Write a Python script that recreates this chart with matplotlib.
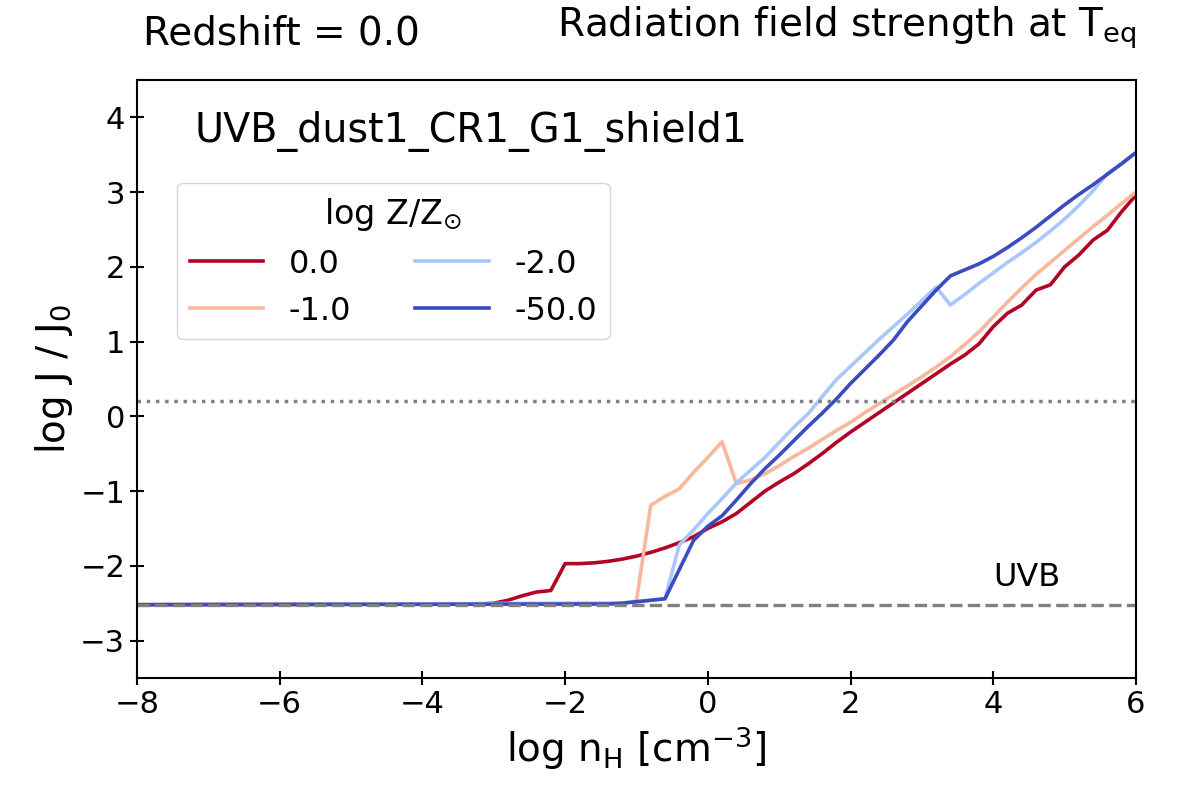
import numpy as np
import matplotlib
matplotlib.use("Agg")
import matplotlib.pyplot as plt
from matplotlib import cm

# log Z/Zsun labels and where they sit on coolwarm
z_labels = ["0.0", "-1.0", "-2.0", "-50.0"]
cmap_pos = [1.0, 2 / 3, 1 / 3, 0.0]

red_x = [-8.0, -3.2, -3.0, -2.8, -2.6, -2.4, -2.2, -2.0, -1.8, -1.6, -1.4, -1.2, -1.0, -0.8, -0.6, -0.4,
         -0.2, 0.0, 0.2, 0.4, 0.6, 0.8, 1.0, 1.2, 1.4, 1.6, 1.8, 2.0, 2.2, 2.4, 2.6, 2.8, 3.0, 3.2, 3.4,
         3.6, 3.8, 4.0, 4.2, 4.4, 4.6, 4.8, 5.0, 5.2, 5.4, 5.6, 5.8, 6.0]
red_y = [-2.52, -2.51, -2.50, -2.46, -2.40, -2.35, -2.33, -1.97, -1.97, -1.96, -1.94, -1.91, -1.87, -1.82,
         -1.76, -1.69, -1.61, -1.50, -1.41, -1.30, -1.15, -1.00, -0.88, -0.77, -0.64, -0.50, -0.35, -0.21,
         -0.08, 0.05, 0.18, 0.31, 0.44, 0.57, 0.70, 0.82, 0.97, 1.20, 1.38, 1.49, 1.69, 1.76, 2.00, 2.16,
         2.36, 2.49, 2.74, 2.96]

orng_x = [-8.0, -1.2, -1.0, -0.8, -0.6, -0.4, -0.2, 0.0, 0.2, 0.4, 0.6, 0.8, 1.0, 1.2, 1.4, 1.6, 1.8, 2.0,
          2.2, 2.4, 2.6, 2.8, 3.0, 3.2, 3.4, 3.6, 3.8, 4.0, 4.2, 4.4, 4.6, 4.8, 5.0, 5.2, 5.4, 5.6, 5.8, 6.0]
orng_y = [-2.52, -2.50, -2.47, -1.19, -1.07, -0.97, -0.75, -0.55, -0.34, -0.90, -0.85, -0.77, -0.66, -0.54,
          -0.43, -0.31, -0.19, -0.08, 0.05, 0.17, 0.29, 0.41, 0.53, 0.66, 0.80, 0.96, 1.13, 1.33, 1.53,
          1.72, 1.90, 2.06, 2.22, 2.38, 2.54, 2.69, 2.85, 3.00]

lb_x = [-8.0, -1.2, -1.0, -0.8, -0.6, -0.4, -0.2, 0.0, 0.2, 0.4, 0.6, 0.8, 1.0, 1.2, 1.4, 1.6, 1.8, 2.0,
        2.2, 2.4, 2.6, 2.8, 3.0, 3.2, 3.4, 3.6, 3.8, 4.0, 4.2, 4.4, 4.6, 4.8, 5.0, 5.2, 5.4, 5.6, 5.8, 6.0]
lb_y = [-2.52, -2.50, -2.48, -2.46, -2.44, -1.72, -1.52, -1.30, -1.10, -0.89, -0.72, -0.55, -0.35, -0.15,
        0.03, 0.26, 0.49, 0.67, 0.85, 1.03, 1.20, 1.37, 1.55, 1.73, 1.49, 1.63, 1.78, 1.92, 2.06, 2.19,
        2.33, 2.48, 2.64, 2.82, 3.02, 3.25, 3.39, 3.53]

db_x = [-8.0, -1.4, -1.2, -1.0, -0.8, -0.6, -0.4, -0.2, 0.0, 0.2, 0.4, 0.6, 0.8, 1.0, 1.2, 1.4, 1.6, 1.8,
        2.0, 2.2, 2.4, 2.6, 2.8, 3.0, 3.2, 3.4, 3.6, 3.8, 4.0, 4.2, 4.4, 4.6, 4.8, 5.0, 5.2, 5.4, 5.6, 5.8, 6.0]
db_y = [-2.52, -2.51, -2.50, -2.48, -2.46, -2.44, -2.05, -1.66, -1.47, -1.33, -1.12, -0.90, -0.70, -0.52,
        -0.33, -0.14, 0.04, 0.23, 0.44, 0.63, 0.82, 1.02, 1.27, 1.48, 1.69, 1.88, 1.96, 2.04, 2.14, 2.26,
        2.39, 2.53, 2.68, 2.83, 2.97, 3.10, 3.24, 3.38, 3.53]

series = [(red_x, red_y), (orng_x, orng_y), (lb_x, lb_y), (db_x, db_y)]

uvb_level = -2.52   # log J/J0 of the UVB alone
j_ref = 0.2         # dotted reference level

fig = plt.figure(figsize=(11.96, 7.98), dpi=100)
ax = fig.add_axes([0.1145, 0.1504, 0.8353, 0.7493])

for (x, y), lab, p in zip(series, z_labels, cmap_pos):
    ax.plot(x, y, color=cm.coolwarm(p), lw=2.6, label=lab)

ax.axhline(j_ref, color="gray", ls=":", lw=2.5)
ax.axhline(uvb_level, color="gray", ls="--", lw=2.4)
ax.text(4.0, -2.27, "UVB", fontsize=23)

ax.set_xlim(-8, 6)
ax.set_ylim(-3.5, 4.5)
ax.set_xticks([-8, -6, -4, -2, 0, 2, 4, 6])
ax.set_yticks([-3, -2, -1, 0, 1, 2, 3, 4])
ax.tick_params(direction="inout", length=10, width=1.5, labelsize=22)
for s in ax.spines.values():
    s.set_linewidth(1.5)

ax.set_xlabel(r"log n$_{\rm H}$ [cm$^{-3}$]", fontsize=28)
ax.set_ylabel(r"log J / J$_0$", fontsize=28)

ax.text(0.058, 0.896, "UVB_dust1_CR1_G1_shield1", transform=ax.transAxes, fontsize=28.5)
ax.text(0.006, 1.06, "Redshift = 0.0", transform=ax.transAxes, fontsize=28)
ax.text(1.0, 1.072, r"Radiation field strength at T$_{\rm eq}$", transform=ax.transAxes,
        fontsize=28, ha="right")

leg = ax.legend(title=r"log Z/Z$_{\odot}$", ncol=2, fontsize=23, title_fontsize=24,
                loc="upper left", bbox_to_anchor=(0.04, 0.828), borderaxespad=0,
                handlelength=2.3, columnspacing=2.0)

fig.savefig("out.png", dpi=100)
